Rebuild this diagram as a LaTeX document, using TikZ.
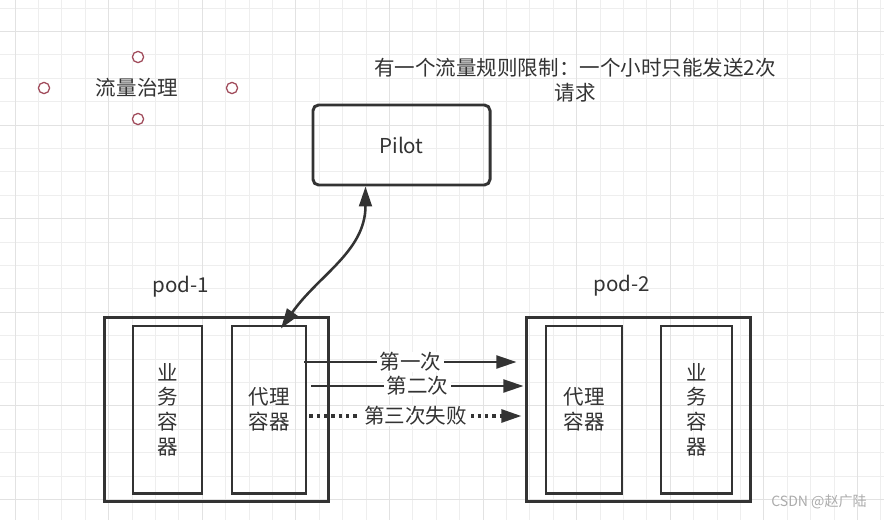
\documentclass[tikz,border=0pt]{standalone}
\usepackage{fontspec}
\setmainfont{Noto Sans CJK SC}
\usepackage{xcolor}
\usetikzlibrary{arrows.meta,positioning}
\definecolor{ink}{HTML}{333333}
\definecolor{gridminor}{HTML}{EEEEEE}
\definecolor{gridmajor}{HTML}{E2E2E2}
\definecolor{handlered}{HTML}{A04A5A}

\begin{document}
\begin{tikzpicture}[
  x=0.025cm, y=-0.025cm,
  >={Triangle[length=5mm,width=3.2mm]},
  every node/.style={text=ink, font=\fontsize{14.6pt}{17.5pt}\selectfont},
  box/.style={draw=ink, line width=2.1pt, minimum height=4.175cm, align=center, inner sep=0pt},
  pod/.style={draw=ink, line width=2.1pt, minimum width=5.575cm, minimum height=4.6cm},
  call/.style={->, draw=ink, line width=1.8pt},
  tag/.style={fill=white, inner xsep=2pt, inner ysep=0pt},
  handle/.style={draw=handlered, line width=0.9pt, fill=white, circle, inner sep=0pt, minimum size=0.28cm},
]
\useasboundingbox (0,0) rectangle (884,520);
\fill[white] (0,0) rectangle (884,520);
% grid
\foreach \i in {0,...,37}
  \draw[gridminor, line width=0.7pt] ({15+23.4*\i},0) -- ({15+23.4*\i},520);
\foreach \j in {0,...,21}
  \draw[gridminor, line width=0.7pt] (0,{8+23.4*\j}) -- (884,{8+23.4*\j});
\foreach \i in {0,4,...,36}
  \draw[gridmajor, line width=0.7pt] ({15+23.4*\i},0) -- ({15+23.4*\i},520);
\foreach \j in {1,5,...,21}
  \draw[gridmajor, line width=0.7pt] (0,{8+23.4*\j}) -- (884,{8+23.4*\j});
% nodes
\node (governance) at (137,88) {流量治理};
\node[handle] (hn) at (138,57) {};
\node[handle] (hw) at (44,88) {};
\node[handle] (he) at (232,88) {};
\node[handle] (hs) at (138,119) {};
\node[align=center] (rule) at (575,80) {有一个流量规则限制：一个小时只能发送2次\\请求};
\node[draw=ink, line width=2.1pt, rounded corners=4pt, minimum width=4.425cm, minimum height=2cm] (pilot) at (401.5,145) {Pilot};
% pod-1
\node (pod1label) at (181,287) {pod-1};
\node[pod] (pod1) at (216.5,409.5) {};
\node[box, minimum width=1.725cm] (biz1) at (167.5,409.5) {业\\务\\容\\器};
\node[box, minimum width=1.85cm] (proxy1) at (269,409.5) {代理\\容器};
% pod-2
\node (pod2label) at (622,286) {pod-2};
\node[pod] (pod2) at (638.5,409.5) {};
\node[box, minimum width=1.9cm] (proxy2) at (584,409.5) {代理\\容器};
\node[box, minimum width=1.775cm] (biz2) at (696.5,409.5) {业\\务\\容\\器};
\node[text=gray!65, font=\fontsize{10pt}{12pt}\selectfont] (mark) at (819,502) {CSDN @赵广陆};
% edges
\coordinate (row1) at (0,362);
\coordinate (row2) at (0,386);
\coordinate (row3) at (0,416);
\draw[<->, draw=ink, line width=1.8pt] ([xshift=-0.9cm]pilot.south) to[out=-90, in=55] ([xshift=0.3cm, yshift=-0.1cm]proxy1.north);
\draw[call] ([xshift=-0.075cm]proxy1.east |- row1) -- node[tag] {第一次} ([xshift=-0.225cm]pod2.west |- row1);
\draw[call] ([xshift=0.1cm]proxy1.east |- row2) -- node[tag] {第二次} ([xshift=-0.05cm]pod2.west |- row2);
\draw[call, line width=2.2pt, dash pattern=on 2.4pt off 2.8pt] ([xshift=0.05cm]proxy1.east |- row3) -- node[tag, inner xsep=3pt] {第三次失败} ([xshift=-0.1cm]pod2.west |- row3);
\end{tikzpicture}
\end{document}
